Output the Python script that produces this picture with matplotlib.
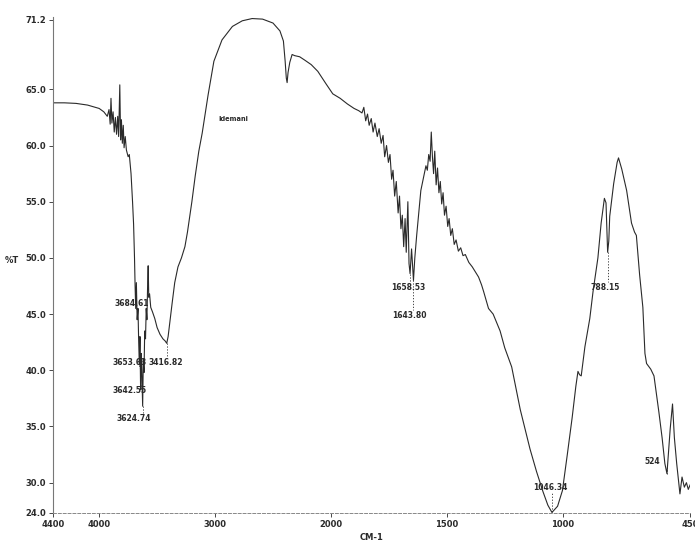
import numpy as np
import matplotlib
matplotlib.use("Agg")
import matplotlib.pyplot as plt

# spectrum (wavenumber cm-1, %T)
wavenumber = [
    4400, 4300, 4200, 4100, 4000, 3960, 3930, 3915, 3905, 3898, 3890, 3880,
    3870, 3860, 3850, 3840, 3832, 3822, 3815, 3808, 3800, 3792, 3785, 3775,
    3765, 3750, 3740, 3725, 3712, 3703, 3695, 3690, 3684.6, 3679, 3672, 3665,
    3660, 3653.6, 3648, 3642.5, 3637, 3631, 3624.7, 3619, 3613, 3607, 3600,
    3594, 3588, 3582, 3577, 3572, 3565, 3555, 3540, 3520, 3500, 3475, 3450,
    3430, 3416.8, 3405, 3390, 3370, 3348, 3320, 3290, 3260, 3238, 3200, 3171,
    3140, 3111, 3060, 3010, 2940, 2850, 2765, 2680, 2590, 2500, 2440, 2410,
    2395, 2385, 2378, 2370, 2355, 2335, 2313, 2270, 2226, 2170, 2113, 2043,
    1992, 1960, 1929, 1900, 1880, 1866, 1858, 1850, 1842, 1835, 1826, 1818,
    1810, 1800, 1792, 1783, 1775, 1768, 1760, 1752, 1745, 1738, 1732, 1725,
    1718, 1710, 1704, 1698, 1692, 1686, 1680, 1675, 1668, 1663, 1658.5, 1652,
    1643.8, 1638, 1630, 1622, 1612, 1600, 1590, 1584, 1578, 1572, 1567, 1562,
    1557, 1552, 1546, 1540, 1534, 1528, 1522, 1516, 1510, 1503, 1496, 1490,
    1483, 1476, 1468, 1460, 1450, 1440, 1430, 1420, 1405, 1390, 1375, 1363,
    1350, 1341, 1320, 1300, 1270, 1250, 1220, 1183, 1141, 1113, 1085, 1064,
    1046.3, 1022, 1001, 980, 959, 943, 934, 927, 920, 904, 883, 869, 848, 834,
    820, 813, 806, 801, 797, 780, 765, 759, 745, 724, 703, 690, 682, 668, 654,
    645, 638, 620, 606, 585, 571, 559, 550, 536, 526, 518, 508, 494, 485, 475,
    466, 458, 450,
]
transmittance = [
    63.8, 63.8, 63.75, 63.6, 63.3, 63.0, 62.6, 63.2, 61.9, 64.2, 62.0, 63.0,
    61.2, 62.5, 61.0, 62.6, 60.8, 65.4, 60.5, 62.3, 60.2, 61.8, 59.8, 60.8,
    59.6, 59.0, 59.2, 57.5, 55.0, 53.0, 50.0, 47.5, 45.5, 47.8, 44.5, 45.5,
    43.0, 40.5, 43.0, 38.3, 41.5, 39.5, 36.8, 41.0, 39.8, 43.5, 42.8,
    45.5, 44.5, 47.5, 49.3, 46.5, 46.8, 45.6, 45.2, 44.6, 43.8, 43.2, 42.8,
    42.6, 42.4, 43.0, 44.3, 46.0, 47.8, 49.2, 50.0, 51.0, 52.3, 55.0, 57.3,
    59.5, 61.1, 64.5, 67.5, 69.4, 70.6, 71.1, 71.3, 71.25, 70.9, 70.2, 69.3,
    67.5, 66.0, 65.6, 66.5, 67.4, 68.1, 68.0, 67.9, 67.6, 67.2, 66.6, 65.5,
    64.6, 64.2, 63.7, 63.3, 63.1, 62.9, 63.4, 62.2, 62.8, 61.8, 62.4, 61.2,
    62.0, 60.8, 61.5, 60.2, 60.9, 59.0, 60.0, 58.5, 59.2, 57.0, 57.8, 55.5,
    56.8, 54.0, 55.5, 52.6, 53.8, 51.0, 53.5, 50.5, 55.0, 49.5, 48.6, 50.8,
    48.0, 50.0, 52.0, 53.8, 56.0, 57.2, 58.2, 57.8, 59.2, 58.6, 61.2, 59.0,
    57.5, 59.5, 56.5, 58.0, 55.8, 56.8, 54.8, 55.8, 53.8, 54.6, 52.8, 53.5,
    52.0, 52.6, 51.2, 51.6, 50.6, 50.9, 50.2, 50.3, 49.6, 49.2, 48.7, 48.3,
    47.6, 47.0, 45.5, 45.0, 43.5, 42.0, 40.3, 36.5, 33.0, 31.0, 29.2, 28.0,
    27.35, 27.9, 29.3, 32.5, 35.8, 38.6, 39.9, 39.6, 39.5, 42.1, 44.6, 47.0,
    50.0, 53.1, 55.3, 54.9, 50.5, 51.5, 53.7, 56.6, 58.5, 58.9, 57.9, 56.0,
    53.1, 52.3, 52.0, 48.5, 45.6, 41.5, 40.6, 40.1, 39.5, 36.3, 34.0, 31.7,
    30.8, 34.8, 37.0, 34.0, 31.7, 29.0, 30.5, 29.6, 30.0, 29.4, 29.8,
]

# peak labels and the peak each one marks
peak_text = ["3684.61", "3653.63", "3642.55", "3624.74", "3416.82",
             "1658.53", "1643.80", "1046.34", "788.15", "524"]
peak_wn = [3684.6, 3653.6, 3642.5, 3624.7, 3416.8, 1658.5, 1643.8, 1046.3, 806, 550]
peak_t = [45.5, 40.5, 38.3, 36.8, 42.4, 48.6, 48.0, 27.35, 50.5, 30.8]

xticks = [4400, 4000, 3000, 2000, 1500, 1000, 450]
xticklabels = ["4400", "4000", "3000", "2000", "1500", "1000", "450"]
yticks = [27.3, 30, 35, 40, 45, 50, 55, 60, 65, 71.2]
yticklabels = ["24.0", "30.0", "35.0", "40.0", "45.0", "50.0", "55.0", "60.0", "65.0", "71.2"]


# x axis is expanded 2x below 2000 cm-1
def fwd(w):
    w = np.asarray(w, dtype=float)
    return np.where(w >= 2000, w, 2 * w - 2000)


def inv(p):
    p = np.asarray(p, dtype=float)
    return np.where(p >= 2000, p, (p + 2000) / 2)


plt.rcParams["font.family"] = "DejaVu Sans"
fig = plt.figure(figsize=(6.95, 5.44), dpi=100)
ax = fig.add_axes([0.076, 0.057, 0.917, 0.912])
ax.set_xscale("function", functions=(fwd, inv))

ink = "#2a2a2a"
ax.plot(wavenumber, transmittance, color=ink, lw=0.8)

ax.set_xlim(4400, 450)
ax.set_ylim(27.3, 71.45)
ax.set_xticks(xticks)
ax.set_xticklabels(xticklabels)
ax.set_yticks(yticks)
ax.set_yticklabels(yticklabels)
ax.tick_params(labelsize=6, length=3, width=0.6, colors=ink, pad=2)
for lab in ax.get_xticklabels() + ax.get_yticklabels():
    lab.set_fontweight("bold")

for s in ["top", "right"]:
    ax.spines[s].set_visible(False)
ax.spines["left"].set_color("#777777")
ax.spines["left"].set_linewidth(0.8)
ax.spines["bottom"].set_color("#888888")
ax.spines["bottom"].set_linestyle((0, (3, 2)))
ax.spines["bottom"].set_linewidth(0.7)

ax.set_xlabel("CM-1", fontsize=6, fontweight="bold", color=ink, labelpad=3)
ax.set_ylabel("%T", fontsize=6, fontweight="bold", color=ink, rotation=0)
ax.yaxis.set_label_coords(-0.065, 0.5)

# label placement (wavenumber, %T) of the texts
text_pos = [(3715, 45.9), (3735, 40.7), (3735, 38.2), (3700, 35.7), (3424, 40.7),
            (1665, 47.4), (1662, 44.9), (1055, 29.6), (818, 47.4), (612, 31.9)]
for txt, w, t, (tw, tt) in zip(peak_text, peak_wn, peak_t, text_pos):
    end = tt + 0.5 if tt < t else tt - 0.5
    ax.plot([w, w], [t, end], color=ink, lw=0.6, ls=(0, (1.5, 2)))
    ax.text(tw, tt, txt, fontsize=5.5, fontweight="bold", color=ink,
            ha="center", va="center")

ax.text(2840, 62.4, "Idemani", fontsize=4.8, fontweight="bold", color=ink,
        ha="center", va="center")

fig.savefig("out.png", dpi=100)
